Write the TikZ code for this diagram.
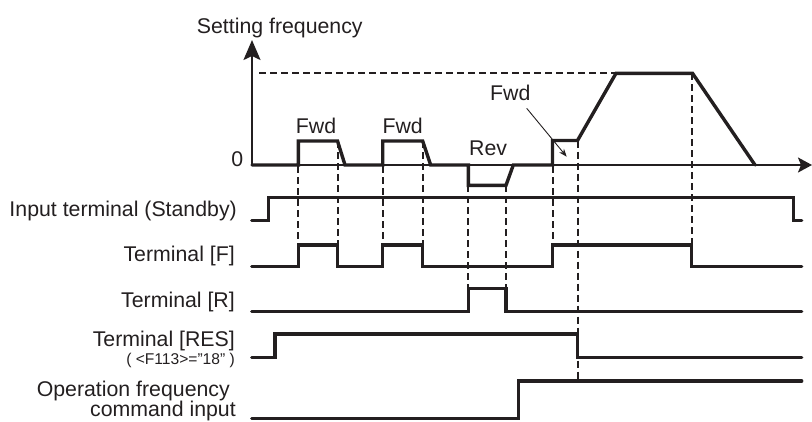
\documentclass[tikz,border=0pt]{standalone}
\usepackage{fontspec}
\setmainfont{Liberation Sans}
\usetikzlibrary{arrows.meta}
\definecolor{ink}{HTML}{231F20}
\tikzset{
  sig/.style={draw=ink,line width=3.4pt,line cap=round,line join=miter},
  axis/.style={draw=ink,line width=2pt},
  guide/.style={draw=ink,line width=2pt,dash pattern=on 7pt off 4pt},
  lbl/.style={text=ink,inner sep=0pt,font=\fontsize{21.3}{25}\selectfont},
  small/.style={text=ink,inner sep=0pt,font=\fontsize{15.6}{18}\selectfont},
}
\begin{document}
\begin{tikzpicture}[x=1pt,y=-1pt]
\useasboundingbox (0,0) rectangle (812,421);
% axes
\draw[axis,-{Stealth[length=20pt,width=17pt,inset=4pt]}] (252,165) -- (252,40);
\draw[axis,-{Stealth[length=14pt,width=15pt,inset=3pt]}] (252,165) -- (812,165);
% dashed guides
\draw[guide] (259,73.3) -- (616,73.3);
\draw[guide] (298.3,166) -- (298.3,245);
\draw[guide] (337.5,141) -- (337.5,245);
\draw[guide] (382.7,166) -- (382.7,245);
\draw[guide] (422.7,141) -- (422.7,245);
\draw[guide] (468.3,185) -- (468.3,288.3);
\draw[guide] (506,185) -- (506,288.3);
\draw[guide] (552.5,166) -- (552.5,245);
\draw[guide] (577.5,140.5) -- (577.5,381);
\draw[guide] (691.7,73.3) -- (691.7,245);
% frequency trace
\draw[sig] (252,165) -- (298.3,165) -- (298.3,141) -- (337.5,141) -- (345,165) -- (382.7,165) -- (382.7,141) -- (422.7,141) -- (430.7,165) -- (468.3,165) -- (468.3,185.3) -- (506,185.3) -- (513.3,165) -- (552.5,165) -- (552.5,140.5) -- (577.5,140.5) -- (616,73.3) -- (692.5,73.3) -- (755,165);
% signals
\draw[sig] (251.7,220.7) -- (268.3,220.7) -- (268.3,197.3) -- (793.3,197.3) -- (793.3,220.7) -- (801.7,220.7);
\draw[sig] (251.7,266.7) -- (298.3,266.7) -- (298.3,245) -- (337.5,245) -- (337.5,266.7) -- (382.7,266.7) -- (382.7,245) -- (422.7,245) -- (422.7,266.7) -- (552.5,266.7) -- (552.5,245) -- (691.7,245) -- (691.7,266.7) -- (801.7,266.7);
\draw[sig] (251.7,311.7) -- (468.3,311.7) -- (468.3,288.3) -- (506,288.3) -- (506,311.7) -- (801.7,311.7);
\draw[sig] (251.7,357.3) -- (275,357.3) -- (275,334) -- (577.5,334) -- (577.5,357.3) -- (801.7,357.3);
\draw[sig] (251.7,418.3) -- (518.3,418.3) -- (518.3,381) -- (801.7,381);
% labels
\node[lbl,anchor=base west] (lblSF) at (196.7,33.3) {Setting frequency};
\node[lbl,anchor=base east] (lblZero) at (243.3,166.7) {0};
\node[lbl,anchor=base west] (lblFwdA) at (295.7,133.3) {Fwd};
\node[lbl,anchor=base west] (lblFwdB) at (382.3,133.3) {Fwd};
\node[lbl,anchor=base west] (lblRev) at (469,155) {Rev};
\node[lbl,anchor=base west] (lblFwdC) at (490,100.7) {Fwd};
\coordinate (fwdtail) at (526.7,108.3);
\coordinate (fwdtip) at (566.7,156.7);
\draw[draw=ink,line width=0.9pt,-{Stealth[length=8pt,width=6pt]}] (fwdtail) -- (fwdtip);
\node[lbl,anchor=base east] (lblStandby) at (237,216) {Input terminal (Standby)};
\node[lbl,anchor=base east] (lblF) at (235,261.7) {Terminal [F]};
\node[lbl,anchor=base east] (lblR) at (235,307.3) {Terminal [R]};
\node[lbl,anchor=base east] (lblRES) at (235,346) {Terminal [RES]};
\node[small,anchor=base east] (lblF113) at (235,364.5) {( <F113>="18" )};
\node[lbl,anchor=base east] (lblOp) at (230,396.3) {Operation frequency};
\node[lbl,anchor=base east] (lblCmd) at (236,416.5) {command input};
\end{tikzpicture}
\end{document}
